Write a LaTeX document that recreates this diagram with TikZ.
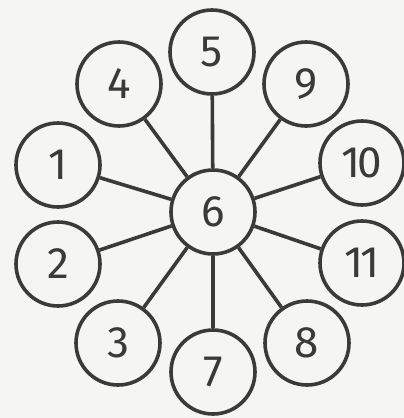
\documentclass[tikz,border=0pt]{standalone}
\usepackage{fontspec}
\setmainfont{Fira Sans}
\definecolor{ink}{HTML}{3A3A3A}
\definecolor{paper}{HTML}{F5F5F3}
\begin{document}
\begin{tikzpicture}[x=1pt,y=-1pt,
  num/.style={circle,draw=ink,line width=3.6pt,minimum size=84pt,inner sep=0pt,text=ink,font=\fontsize{44}{44}\selectfont\addfontfeatures{LetterSpace=-6}},
  spoke/.style={draw=ink,line width=3.6pt}]
\fill[paper] (0,0) rectangle (404,418);
\useasboundingbox (0,0) rectangle (404,418);
\node[num] (n6) at (213,212) {6};
\node[num] (n5) at (212,52) {5};
\node[num] (n4) at (119,84) {4};
\node[num] (n9) at (306,84) {9};
\node[num] (n1) at (58,165) {1};
\node[num] (n10) at (362,163) {10};
\node[num] (n2) at (58,264) {2};
\node[num] (n11) at (362,263) {11};
\node[num] (n3) at (118,343) {3};
\node[num] (n7) at (213,372) {7};
\node[num] (n8) at (307,343) {8};
\foreach \k in {5,4,9,1,10,2,11,3,7,8} \draw[spoke] (n6) -- (n\k);
\end{tikzpicture}
\end{document}
